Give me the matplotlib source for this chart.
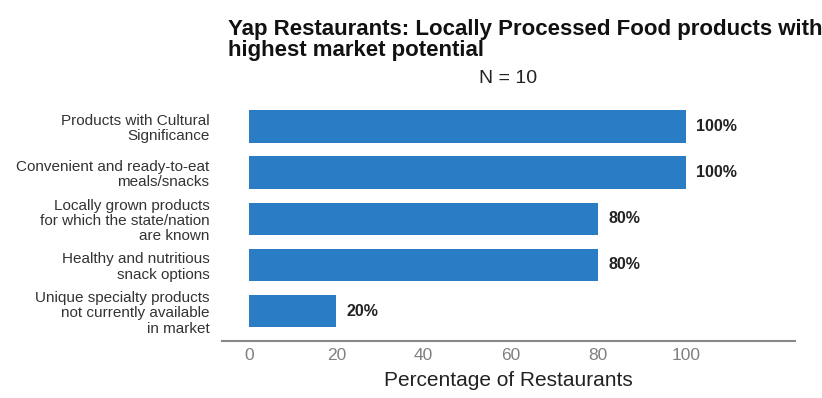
import matplotlib.pyplot as plt

categories = [
    "Products with Cultural\nSignificance",
    "Convenient and ready-to-eat\nmeals/snacks",
    "Locally grown products\nfor which the state/nation\nare known",
    "Healthy and nutritious\nsnack options",
    "Unique specialty products\nnot currently available\nin market",
]
percentages = [100, 100, 80, 80, 20]
x_ticks = [0, 20, 40, 60, 80, 100]

plt.rcParams['font.family'] = ['Liberation Sans', 'DejaVu Sans']

fig = plt.figure(figsize=(8.22, 3.98), dpi=100)
ax = fig.add_axes([0.270, 0.143, 0.697, 0.603])

ypos = list(range(len(categories)))
ax.barh(ypos, percentages, height=0.7, color='#2a7cc4')
for y, v in zip(ypos, percentages):
    ax.text(v + 2.3, y, f"{v}%", va='center', ha='left',
            fontsize=11.5, fontweight='bold', color='#222222')

ax.set_yticks(ypos)
ax.set_yticklabels(categories, fontsize=11, color='#333333', linespacing=1.12)
ax.set_ylim(len(categories) - 0.35, -0.55)
ax.set_xlim(-6.2, 125)
ax.set_xticks(x_ticks)
ax.tick_params(axis='x', colors='#808080', labelsize=12.5, length=0, pad=5)
ax.tick_params(axis='y', length=0, pad=9)

for side in ['top', 'right', 'left']:
    ax.spines[side].set_visible(False)
ax.spines['bottom'].set_color('#888888')
ax.spines['bottom'].set_linewidth(1.5)

ax.set_xlabel("Percentage of Restaurants", fontsize=15, color='#222222', labelpad=6)

fig.text(0.277, 0.90, "Yap Restaurants: Locally Processed Food products with\nhighest market potential",
         fontsize=16, fontweight='bold', ha='left', va='center', linespacing=1.02, color='#111111')
fig.text(0.618, 0.803, "N = 10", fontsize=14, ha='center', va='center', color='#222222')

fig.savefig("out.png", dpi=100)
